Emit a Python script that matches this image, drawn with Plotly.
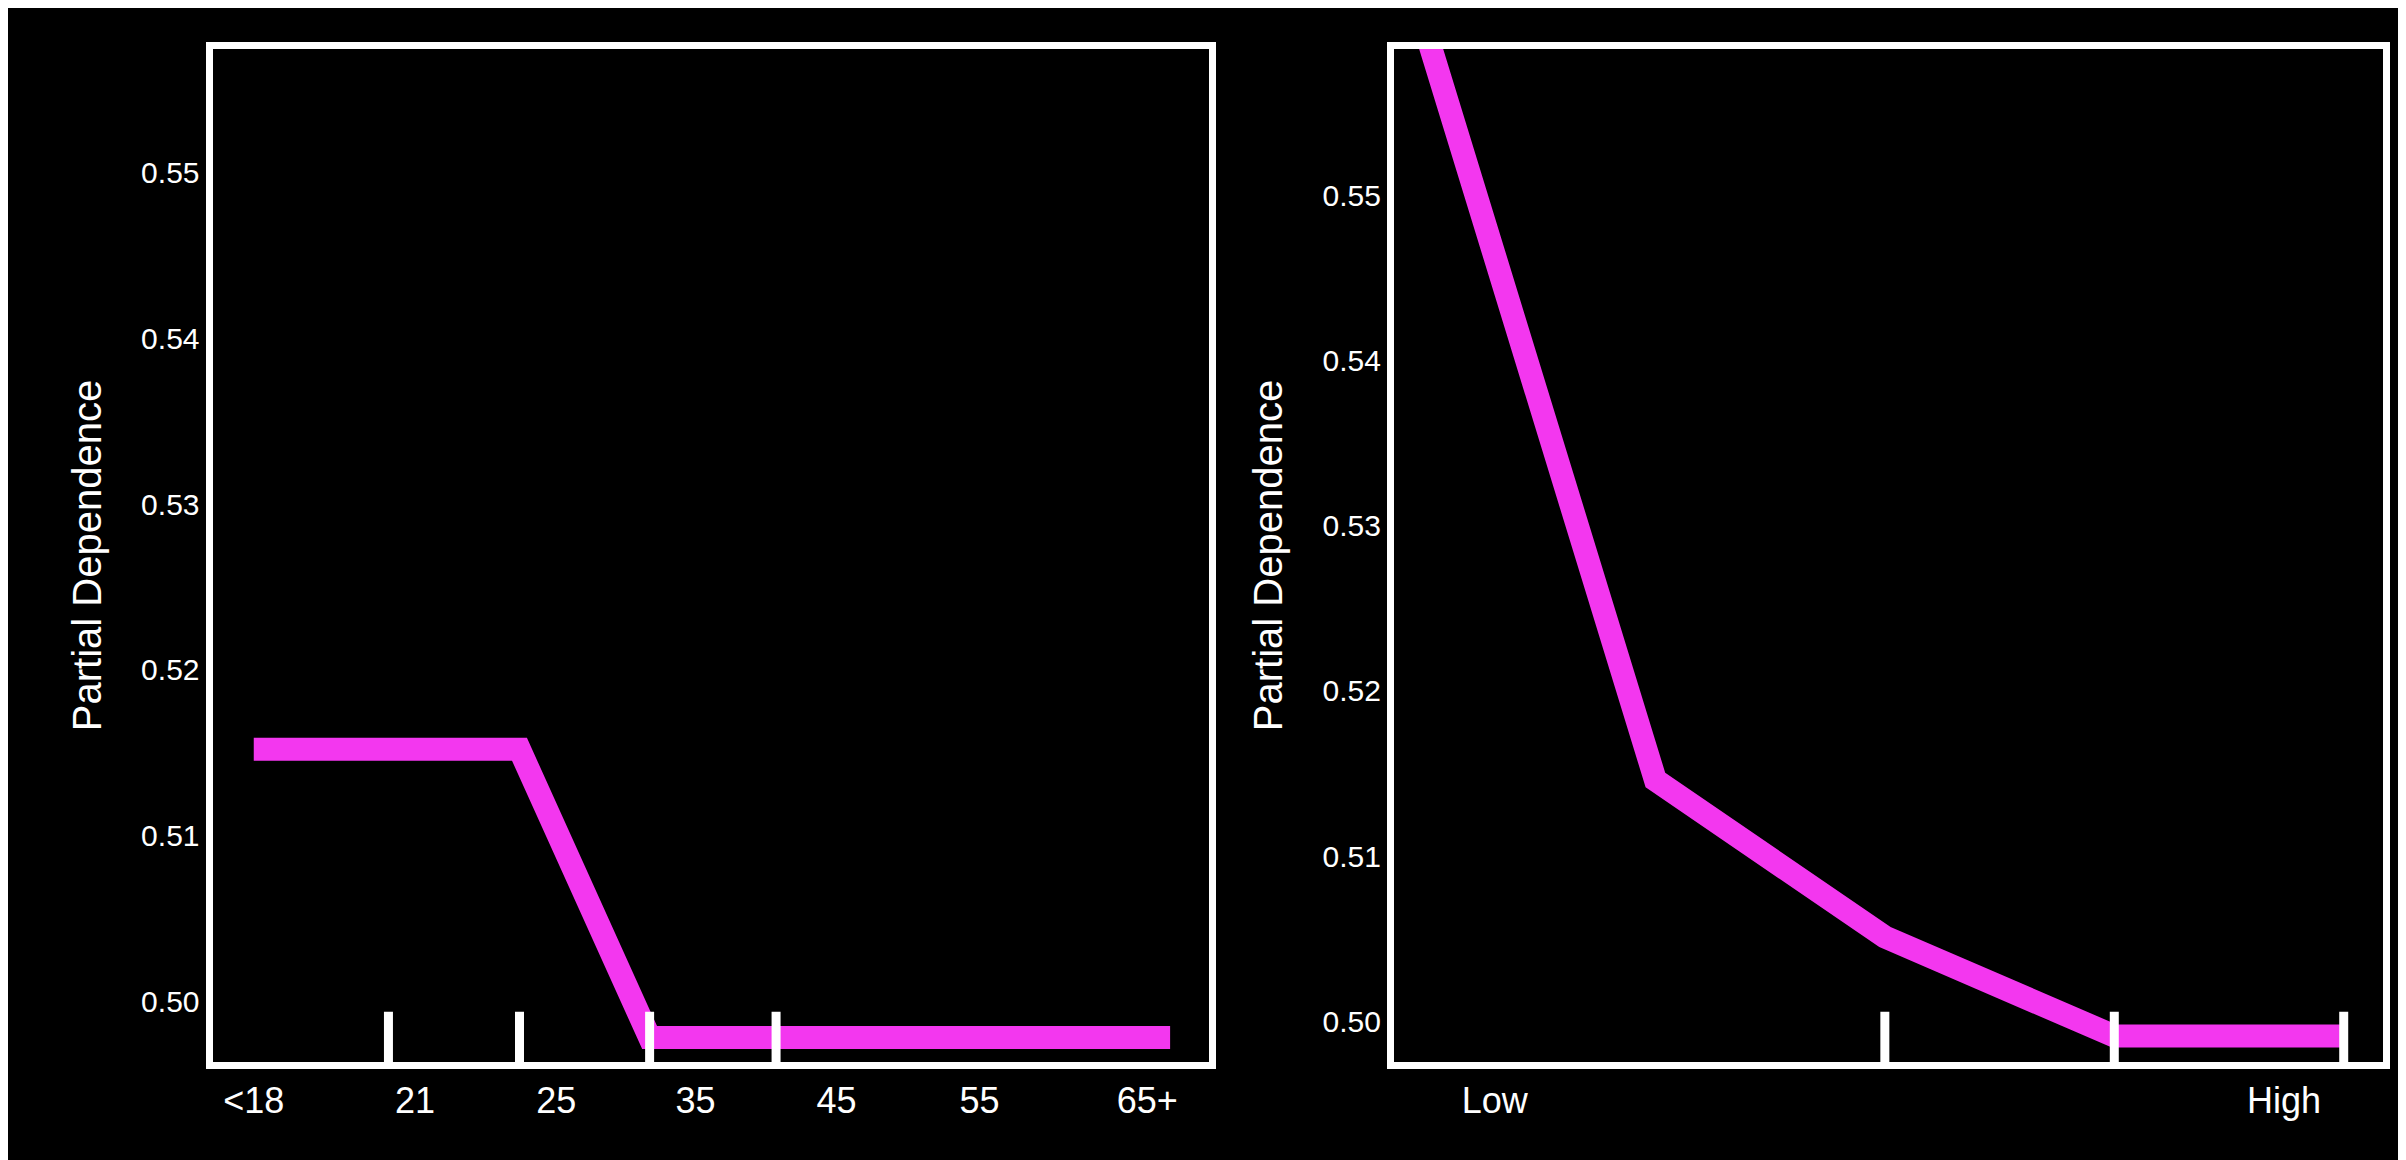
import plotly.graph_objects as go

# left panel: age groups (positions on a 0..1 scale)
age_x = [0.0, 0.29, 0.432, 1.0]
age_pd = [0.5152, 0.5152, 0.4978, 0.4978]
age_tick_pos = [0.0, 0.176, 0.33, 0.482, 0.636, 0.792, 0.975]
age_tick_text = ["<18", "21", "25", "35", "45", "55", "65+"]
age_rug = [0.147, 0.29, 0.432, 0.57]

# right panel: low -> high
lvl_x = [0, 1, 2, 3, 4]
lvl_pd = [0.5599, 0.5146, 0.5051, 0.4991, 0.4991]
lvl_tick_pos = [0.3, 3.74]
lvl_tick_text = ["Low", "High"]
lvl_rug = [2, 3, 4]

MAGENTA = "#f337ef"
font = "Liberation Sans, Arial, sans-serif"

fig = go.Figure()
fig.add_trace(go.Scatter(x=age_x, y=age_pd, mode="lines", xaxis="x", yaxis="y",
                         line=dict(color=MAGENTA, width=23), showlegend=False))
fig.add_trace(go.Scatter(x=lvl_x, y=lvl_pd, mode="lines", xaxis="x2", yaxis="y2",
                         line=dict(color=MAGENTA, width=23), showlegend=False))

shapes = []
for xv in age_rug:
    shapes.append(dict(type="line", xref="x", yref="y domain", x0=xv, x1=xv, y0=0, y1=0.05,
                       line=dict(color="white", width=9)))
for xv in lvl_rug:
    shapes.append(dict(type="line", xref="x2", yref="y2 domain", x0=xv, x1=xv, y0=0, y1=0.05,
                       line=dict(color="white", width=9)))

ydom = [0.091, 0.965]
common_y = dict(tickvals=[0.50, 0.51, 0.52, 0.53, 0.54, 0.55], tickformat=".2f",
                showgrid=False, zeroline=False, showline=True, mirror=True,
                linecolor="white", linewidth=7, ticks="", ticklen=0,
                tickfont=dict(size=30, color="white", family=font),
                title=dict(text="Partial Dependence", standoff=30,
                           font=dict(size=40, color="white", family=font)),
                domain=ydom)
common_x = dict(showgrid=False, zeroline=False, showline=True, mirror=True,
                linecolor="white", linewidth=7, ticks="",
                tickfont=dict(size=36, color="white", family=font))

fig.update_layout(
    width=2406, height=1160,
    paper_bgcolor="black", plot_bgcolor="black",
    margin=dict(l=0, r=0, t=0, b=0),
    xaxis=dict(common_x, domain=[0.085, 0.499], range=[-0.045, 1.042],
               tickvals=age_tick_pos, ticktext=age_tick_text, anchor="y"),
    yaxis=dict(common_y, range=[0.4963, 0.5575], anchor="x"),
    xaxis2=dict(common_x, domain=[0.576, 0.987], range=[-0.14, 4.17],
                tickvals=lvl_tick_pos, ticktext=lvl_tick_text, anchor="y2"),
    yaxis2=dict(common_y, range=[0.4975, 0.5589], anchor="x2"),
    shapes=shapes,
)

fig.write_html("out.html")
